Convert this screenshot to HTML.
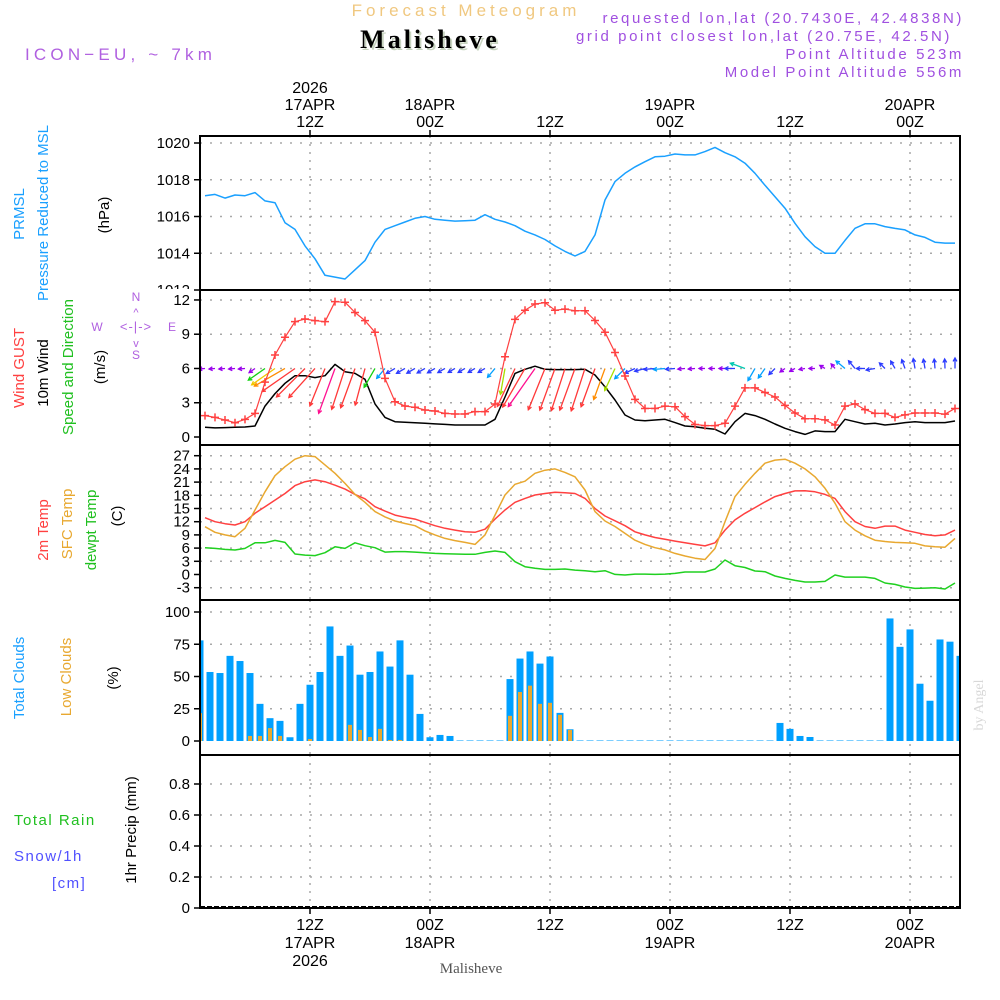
<!DOCTYPE html>
<html><head><meta charset="utf-8">
<style>
html,body{margin:0;padding:0;background:#fff;}
svg{display:block;}
text{font-family:"Liberation Sans",sans-serif;}
</style></head>
<body>
<svg id="chart" width="1000" height="1000" viewBox="0 0 1000 1000" xmlns="http://www.w3.org/2000/svg">
<defs><clipPath id="plotclip"><rect x="200" y="136" width="760" height="772"/></clipPath>
<clipPath id="pclip"><rect x="150" y="130" width="60" height="159"/></clipPath></defs>

<!-- header -->
<text x="466" y="16" text-anchor="middle" font-size="17" fill="#f0c880" letter-spacing="4">Forecast Meteogram</text>
<text x="432" y="50" text-anchor="middle" font-size="26" font-weight="bold" fill="#c8d4c0" letter-spacing="3" style="font-family:'Liberation Serif',serif">Malisheve</text>
<text x="430" y="48" text-anchor="middle" font-size="26" font-weight="bold" fill="#000" letter-spacing="3" style="font-family:'Liberation Serif',serif">Malisheve</text>
<text x="25" y="60" font-size="17" fill="#b060e0" letter-spacing="4.2">ICON−EU, ~ 7km</text>
<g font-size="15" fill="#a050e0" text-anchor="end" letter-spacing="2.6">
<text x="964" y="23">requested lon,lat (20.7430E, 42.4838N)</text>
<text x="952" y="41">grid point closest lon,lat (20.75E, 42.5N)</text>
<text x="964" y="59">Point Altitude 523m</text>
<text x="964" y="77">Model Point Altitude 556m</text>
</g>

<!-- left labels -->
<g font-size="15">
<text transform="translate(24,214) rotate(-90)" text-anchor="middle" fill="#1aa0ff">PRMSL</text>
<text transform="translate(48,213) rotate(-90)" text-anchor="middle" fill="#1aa0ff">Pressure  Reduced to MSL</text>
<text transform="translate(109,215) rotate(-90)" text-anchor="middle" fill="#000">(hPa)</text>
</g>
<g font-size="15">
<text transform="translate(24,368) rotate(-90)" text-anchor="middle" fill="#ff4040">Wind GUST</text>
<text transform="translate(48,373) rotate(-90)" text-anchor="middle" fill="#000">10m Wind</text>
<text transform="translate(73,367) rotate(-90)" text-anchor="middle" fill="#20c020">Speed and Direction</text>
<text transform="translate(105,367) rotate(-90)" text-anchor="middle" fill="#000">(m/s)</text>
</g>
<g font-size="12" fill="#b060e0" text-anchor="middle">
<text x="136" y="301">N</text><text x="136" y="359">S</text><text x="97" y="331">W</text><text x="172" y="331">E</text>
<text x="136" y="331" font-size="13" letter-spacing="1">&lt;-|-&gt;</text>
<text x="136" y="316" font-size="11">^</text><text x="136" y="347" font-size="11">v</text>
</g>
<g font-size="15">
<text transform="translate(48,530) rotate(-90)" text-anchor="middle" fill="#ff4040">2m Temp</text>
<text transform="translate(72,524) rotate(-90)" text-anchor="middle" fill="#e8a830">SFC Temp</text>
<text transform="translate(96,530) rotate(-90)" text-anchor="middle" fill="#20c020">dewpt Temp</text>
<text transform="translate(122,516) rotate(-90)" text-anchor="middle" fill="#000">(C)</text>
</g>
<g font-size="15">
<text transform="translate(24,678) rotate(-90)" text-anchor="middle" fill="#1aa0ff">Total Clouds</text>
<text transform="translate(71,677) rotate(-90)" text-anchor="middle" fill="#e8a830">Low Clouds</text>
<text transform="translate(118,678) rotate(-90)" text-anchor="middle" fill="#000">(%)</text>
</g>
<g>
<text transform="translate(136,830) rotate(-90)" text-anchor="middle" font-size="15" fill="#000">1hr Precip (mm)</text>
<text x="14" y="825" font-size="15" fill="#20c020" letter-spacing="1.5">Total   Rain</text>
<text x="14" y="861" font-size="15" fill="#5050ff" letter-spacing="1.5">Snow/1h</text>
<text x="52" y="888" font-size="15" fill="#5050ff" letter-spacing="1.5">[cm]</text>
</g>
<text transform="translate(983,705) rotate(-90)" text-anchor="middle" font-size="14" fill="#d8d8d8" style="font-family:'Liberation Serif',serif">by Angel</text>

<g id="grid"></g>
<g id="marks" clip-path="url(#plotclip)"></g>
<g id="axes"></g>
</svg>
<script>
// ---- data (hourly, 17APR 01Z .. 20APR 04Z) ----
const pressure = [1017.13,1017.2,1017.0,1017.17,1017.13,1017.3,1016.85,1016.75,1015.66,1015.3,1014.4,1013.7,1012.8,1012.7,1012.6,1013.1,1013.6,1014.6,1015.3,1015.5,1015.7,1015.9,1016.0,1015.85,1015.8,1015.75,1015.77,1015.8,1016.1,1015.85,1015.7,1015.5,1015.2,1015.0,1014.75,1014.4,1014.1,1013.85,1014.1,1015.0,1016.9,1017.9,1018.35,1018.7,1018.98,1019.25,1019.28,1019.4,1019.35,1019.35,1019.53,1019.76,1019.47,1019.25,1018.9,1018.35,1017.7,1017.08,1016.45,1015.63,1014.9,1014.36,1014.0,1014.0,1014.7,1015.36,1015.6,1015.6,1015.45,1015.35,1015.27,1015.0,1014.86,1014.6,1014.55,1014.55];
const gust = [1.87,1.72,1.49,1.25,1.54,2.07,4.8,7.18,8.73,10.1,10.33,10.19,10.1,11.85,11.8,10.9,10.19,9.17,5.13,3.09,2.71,2.6,2.36,2.28,2.07,2.01,2.01,2.22,2.22,2.89,7.03,10.3,11.1,11.65,11.76,11.1,11.2,11.06,11.06,10.2,9.17,7.4,5.34,3.3,2.5,2.5,2.7,2.65,1.78,1.1,1.0,1.0,1.2,2.7,4.3,4.3,3.9,3.5,2.77,2.1,1.6,1.6,1.5,1.05,2.7,2.9,2.4,2.07,2.07,1.72,1.94,2.1,2.1,2.1,2.0,2.5];
const wind10m = [0.85,0.8,0.82,0.85,0.88,0.96,2.71,3.8,4.7,5.37,5.37,5.2,5.37,6.36,5.72,5.57,5.05,2.9,1.72,1.34,1.3,1.25,1.2,1.15,1.1,1.05,1.05,1.05,1.05,1.55,3.5,5.57,5.93,6.2,5.93,5.9,5.9,5.9,5.93,5.43,4.4,3.24,1.93,1.49,1.43,1.49,1.55,1.26,0.96,0.9,0.76,0.67,0.26,1.34,2.07,1.87,1.55,1.14,0.76,0.47,0.23,0.53,0.47,0.47,1.55,1.34,1.14,1.2,1.05,1.14,1.26,1.34,1.26,1.26,1.26,1.4];
const windDir = [185,185,185,185,185,215,215,215,210,215,225,228,248,250,252,250,255,240,230,210,210,210,210,210,210,210,210,210,210,230,260,245,240,235,248,250,252,250,252,250,250,245,225,205,195,185,185,185,185,185,180,180,180,180,160,240,235,225,215,210,190,180,150,130,140,130,180,190,135,120,110,100,100,95,92,90];
const temp2m = [12.9,12.0,11.55,11.24,12.0,13.9,15.4,16.9,18.4,20.2,21.1,21.5,21.1,20.3,19.4,18.2,17.2,15.4,14.4,13.5,13.0,12.6,11.85,11.1,10.5,10.1,9.7,9.6,10.3,12.6,14.65,16.4,17.3,18.06,18.4,18.7,18.6,18.4,17.3,15.0,13.3,12.2,11.1,9.7,9.0,8.4,8.0,7.6,7.2,6.85,6.5,7.2,10.1,12.4,13.9,15.2,16.5,17.7,18.4,19.0,19.05,18.8,18.2,17.3,14.3,12.0,10.9,10.5,11.0,11.0,10.1,9.6,9.1,8.8,9.0,10.1];
const tempSfc = [10.86,9.6,9.0,8.6,10.5,14.65,18.8,22.45,24.5,26.2,27.0,26.8,24.9,23.0,20.7,18.2,16.4,14.3,13.1,12.15,11.6,11.1,9.9,9.0,8.2,7.7,7.3,6.85,9.0,13.5,18.06,20.5,21.2,23.0,23.7,24.0,23.2,22.2,19.2,14.3,12.15,10.9,9.35,7.8,6.85,6.1,5.6,4.8,4.2,3.7,3.4,5.9,12.0,17.7,20.5,23.0,25.3,26.0,26.2,25.3,24.0,22.2,19.6,16.2,12.0,10.1,8.8,7.8,7.5,7.3,7.2,7.1,6.5,6.3,6.2,8.2];
const dewpt = [6.1,5.94,5.7,5.56,5.94,7.2,7.2,7.76,7.3,4.65,4.4,4.3,4.95,6.3,5.94,7.2,6.55,6.1,5.1,5.2,5.2,5.1,4.95,4.8,4.7,4.65,4.58,4.58,5.03,5.33,5.03,2.9,1.77,1.4,1.17,1.17,1.24,1.0,0.86,0.64,0.86,0.03,-0.12,0.1,0.1,0.03,0.1,0.26,0.56,0.56,0.56,1.24,3.3,2.0,1.6,0.8,0.64,-0.35,-0.88,-1.33,-1.7,-1.7,-1.56,-0.12,-0.58,-0.58,-0.58,-0.88,-1.94,-2.24,-2.85,-3.15,-3.08,-3.0,-3.3,-1.94];
const totalCloud = [78,53.5,52.7,66,62,52.7,28.8,17.7,15.6,2.9,28.8,43.6,53.5,88.8,66,74,51.4,53.5,69.4,57.7,78,51.4,21,2.9,4.7,3.9,0.4,0.4,0.4,0.4,0.4,48,63.9,69.4,60,65.5,21.8,9.1,0.4,0.4,0.4,0.4,0.4,0.4,0.4,0.4,0.4,0.4,0.4,0.4,0.4,0.4,0.4,0.4,0.4,0.4,0.4,0.4,14,9.4,3.9,3.1,0.4,0.4,0.4,0.4,0.4,0.4,0.4,95,73,86.5,44.4,31.2,78.7,77,66];
const lowCloud = [21.6,0,0,0,0,3.9,3.9,10,3.9,0,0,1.5,0,0,0,12.5,8.6,3.1,9.4,0.8,0.8,0,0,0,0,0,0,0,0,0,0,19.5,38,42.9,28.8,29.6,20.3,8.6,0,0,0,0,0,0,0,0,0,0,0,0,0,0,0,0,0,0,0,0,0,0,0,0,0,0,0,0,0,0,0,0,0,0,0,0,0,0,0];
const precip = new Array(77).fill(0);
const pressureTicks = [1020,1018,1016,1014,1012];
const windTicks = [12,9,6,3,0];
const tempTicks = [27,24,21,18,15,12,9,6,3,0,-3];
const cloudTicks = [100,75,50,25,0];
const precipTicks = [0.8,0.6,0.4,0.2,0];
const timeTicksTop = [{h:11,l:["2026","17APR","12Z"]},{h:23,l:["18APR","00Z"]},{h:35,l:["12Z"]},{h:47,l:["19APR","00Z"]},{h:59,l:["12Z"]},{h:71,l:["20APR","00Z"]}];
const timeTicksBottom = [{h:11,l:["12Z","17APR","2026"]},{h:23,l:["00Z","18APR"]},{h:35,l:["12Z"]},{h:47,l:["00Z","19APR"]},{h:59,l:["12Z"]},{h:71,l:["00Z","20APR"]}];

// ---- axis functions ----
const X0=200, X1=960;
const xH = h => 200 + 10*h;
const xPt = i => 205 + 10*i;
const xBar = i => 200 + 10*i;
const yP = p => 143 + (1020-p)*18.375;
const yW = v => 437 - v*11.42;
const yT = t => 455.7 + (27-t)*4.4;
const yC = c => 741 - c*1.29;
const yR = r => 908 - r*155;

const NS="http://www.w3.org/2000/svg";
function mk(tag, parent, attrs){const e=document.createElementNS(NS,tag);for(const k in attrs)e.setAttribute(k,attrs[k]);parent.appendChild(e);return e;}
const grid=document.getElementById('grid'), marks=document.getElementById('marks'), axes=document.getElementById('axes');

const panels=[
 {top:136,bot:290,ticks:pressureTicks,f:yP,name:'pressure',fmt:v=>String(v)},
 {top:290,bot:445,ticks:windTicks,f:yW,name:'wind',fmt:v=>String(v)},
 {top:445,bot:600,ticks:tempTicks,f:yT,name:'temp',fmt:v=>String(v)},
 {top:600,bot:755,ticks:cloudTicks,f:yC,name:'cloud',fmt:v=>String(v)},
 {top:755,bot:908,ticks:precipTicks,f:yR,name:'precip',fmt:v=>v===0?'0':v.toFixed(1)}
];
panels.forEach(p=>{
  p.ticks.forEach(t=>{
    const y=p.f(t);
    if(t!==0 && y>p.top+2 && y<p.bot-2){
      const g=mk('line',grid,{x1:X0,x2:X1,y1:y,y2:y,stroke:'#a8a8a8','stroke-width':1.5,'stroke-dasharray':'2,8'});
      
      
    }
    const tk=mk('line',axes,{x1:194,x2:200,y1:y,y2:y,stroke:'#000','stroke-width':1.5});
    
    
    const attrs={x:190,y:y+5,'text-anchor':'end','font-size':15,fill:'#000'};
    if(p.name==='pressure' && t===1012) attrs['clip-path']='url(#pclip)';
    const tx=mk('text',axes,attrs); tx.textContent=p.fmt(t);
    
    
  });
  timeTicksTop.forEach(tt=>{
    const x=xH(tt.h);
    const v=mk('line',grid,{x1:x,x2:x,y1:p.top,y2:p.bot,stroke:'#a8a8a8','stroke-width':1.5,'stroke-dasharray':'2,6'});
    
    
  });
  const r=mk('rect',axes,{x:X0,y:p.top,width:X1-X0,height:p.bot-p.top,fill:'none',stroke:'#000','stroke-width':2});
  
  
});
timeTicksTop.forEach(tt=>{
  const x=xH(tt.h);
  const tk=mk('line',axes,{x1:x,x2:x,y1:130,y2:136,stroke:'#000','stroke-width':1.5});
  
  
  const n=tt.l.length;
  tt.l.forEach((s,k)=>{
    const t=mk('text',axes,{x:x,y:127-(n-1-k)*17,'text-anchor':'middle','font-size':16,fill:'#000'});
    t.textContent=s;
    
    
  });
});
timeTicksBottom.forEach(tt=>{
  const x=xH(tt.h);
  const tk=mk('line',axes,{x1:x,x2:x,y1:908,y2:914,stroke:'#000','stroke-width':1.5});
  
  
  tt.l.forEach((s,k)=>{
    const t=mk('text',axes,{x:x,y:930+k*18,'text-anchor':'middle','font-size':16,fill:'#000'});
    t.textContent=s;
    
    
  });
});
const ml=mk('text',axes,{x:471,y:973,'text-anchor':'middle','font-size':15,fill:'#555',style:"font-family:'Liberation Serif',serif"});
ml.textContent='Malisheve';



function poly(arr,fy,xf,color,name,w){
  const pts=arr.map((v,i)=>xf(i).toFixed(1)+','+fy(v).toFixed(1)).join(' ');
  const e=mk('polyline',marks,{points:pts,fill:'none',stroke:color,'stroke-width':w||1.5,'stroke-linejoin':'round'});
  
  
}
poly(pressure,yP,xPt,'#1aa0ff','pressure-line');
totalCloud.forEach((c,i)=>{
  const b=mk('rect',marks,{x:xBar(i)-3.5,y:yC(c),width:7,height:741-yC(c),fill:'#00a0ff'});
  
  
});
lowCloud.forEach((c,i)=>{
  if(c<=0) return;
  const b=mk('rect',marks,{x:xBar(i)-2,y:yC(c),width:4,height:741-yC(c),fill:'#e8a830'});
  
  
});
const pl=mk('line',marks,{x1:X0,x2:X1,y1:yR(0)-1,y2:yR(0)-1,stroke:'#000','stroke-width':2,'stroke-dasharray':'5,2'});


precip.forEach((r,i)=>{ if(r>0){const b=mk('rect',marks,{x:xBar(i)-3,y:yR(r),width:6,height:908-yR(r),fill:'#20c020'});
   }});
poly(temp2m,yT,xPt,'#ff4040','temp-2m-line');
poly(tempSfc,yT,xPt,'#e8a830','temp-sfc-line');
poly(dewpt,yT,xPt,'#20d020','dewpoint-line');
poly(wind10m,yW,xPt,'#000','wind-10m-line');
function spdColor(s){
  if(s<1) return '#9a00ee'; if(s<1.5) return '#2b3bff'; if(s<2) return '#00a0ff';
  if(s<2.5) return '#00c8b0'; if(s<3) return '#10d010'; if(s<3.6) return '#a8e000';
  if(s<4.2) return '#f0c800'; if(s<5) return '#ff8c00'; if(s<6) return '#ff3838'; return '#ff1090';
}
const yBase=yW(6);
wind10m.forEach((s,i)=>{
  const L=Math.max(6,7.5*s), a=windDir[i]*Math.PI/180;
  const x0=xPt(i), y0=yBase, x1=x0+L*Math.cos(a), y1=y0-L*Math.sin(a);
  const ux=Math.cos(a), uy=-Math.sin(a), hs=4;
  const c=spdColor(s);
  const g=mk('g',marks,{stroke:c,'stroke-width':1.3,fill:'none'});
  
  
  mk('line',g,{x1:x0,y1:y0,x2:x1,y2:y1});
  const ca=Math.cos(0.5), sa=Math.sin(0.5);
  const bx1=x1-hs*(ux*ca-uy*sa), by1=y1-hs*(uy*ca+ux*sa);
  const bx2=x1-hs*(ux*ca+uy*sa), by2=y1-hs*(uy*ca-ux*sa);
  mk('polyline',g,{points:bx1+','+by1+' '+x1+','+y1+' '+bx2+','+by2});
});
poly(gust,yW,xPt,'#ff4040','wind-gust-line',1.2);
gust.forEach((v,i)=>{
  const x=xPt(i), y=yW(v);
  const m=mk('path',marks,{d:`M${x-4},${y}H${x+4}M${x},${y-4}V${y+4}`,stroke:'#ff4040','stroke-width':1.5});
  
  
});
</script>
</body></html>
